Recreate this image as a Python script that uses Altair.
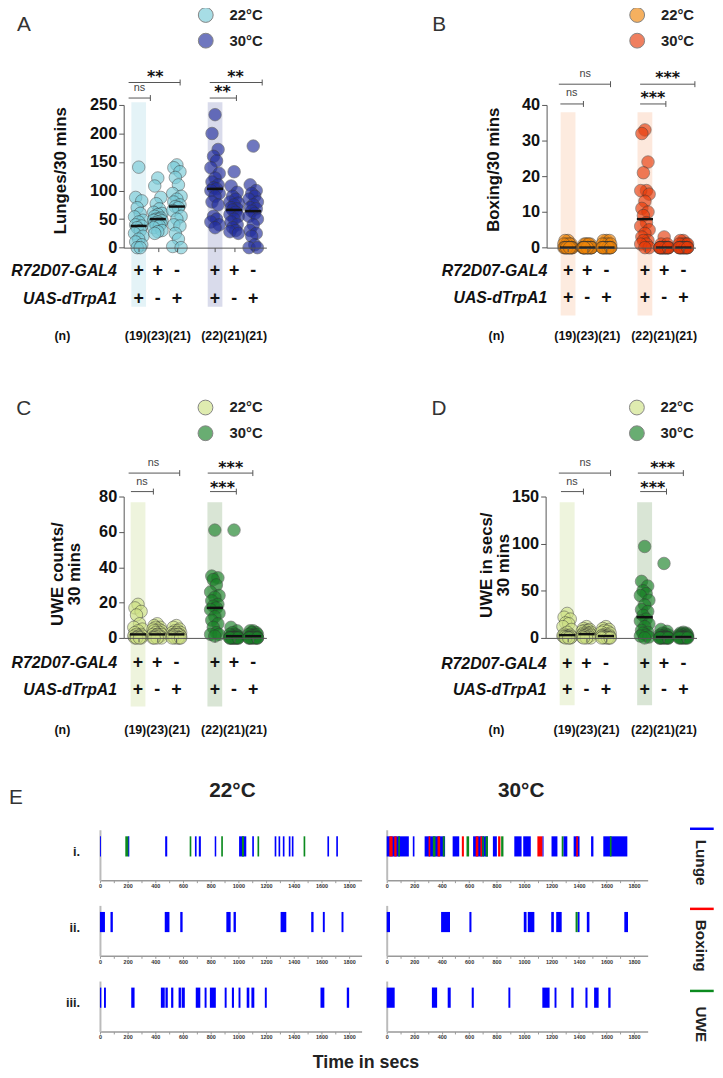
import altair as alt
import pandas as pd

W, H = 715, 1070
OX, OY = 8, 8
FONT = "Liberation Sans"
STAR_FONT = "DejaVu Sans"


def px(x):
    return round(x - OX, 2)


def py(y):
    return round(y - OY, 2)


# ---------------- categories ----------------
col_pos = [1, 2, 3, 5, 6, 7]
col_temp = ["22°C", "22°C", "22°C", "30°C", "30°C", "30°C"]
temps = ["22°C", "30°C"]
gal4_signs = ["+", "+", "-", "+", "+", "-"]
uas_signs = ["+", "-", "+", "+", "-", "+"]
n_flies = [19, 23, 21, 22, 21, 21]

# ---------------- panel A: lunges ----------------
lunges = [
    [141, 88, 82, 70, 60, 54, 48, 45, 40, 38, 35, 30, 25, 20, 15, 10, 5, 0, 0],
    [122, 108, 88, 77, 68, 62, 60, 58, 55, 52, 50, 50, 48, 47, 45, 43, 42, 40, 38, 35, 30, 28, 25],
    [145, 140, 133, 123, 110, 95, 90, 85, 80, 75, 72, 70, 65, 55, 50, 40, 38, 25, 15, 2, 0],
    [233, 200, 172, 160, 152, 140, 130, 122, 115, 110, 105, 103, 100, 95, 90, 80, 75, 55, 50, 45, 40, 35],
    [133, 108, 97, 90, 85, 80, 78, 75, 70, 68, 66, 62, 58, 55, 50, 45, 40, 35, 30, 28, 25],
    [178, 110, 100, 95, 90, 85, 80, 75, 70, 68, 64, 60, 55, 50, 40, 30, 25, 20, 5, 0, 0],
]
lunges_median = [38, 50, 72, 103, 66, 64]

# ---------------- panel B: boxing ----------------
boxing = [
    [2, 2, 1, 1, 1, 1, 0, 0, 0, 0, 0, 0, 0, 0, 0, 0, 0, 0, 0],
    [1, 1, 1, 1, 1, 0, 0, 0, 0, 0, 0, 0, 0, 0, 0, 0, 0, 0, 0, 0, 0, 0, 0],
    [2, 2, 2, 1, 1, 1, 1, 0, 0, 0, 0, 0, 0, 0, 0, 0, 0, 0, 0, 0, 0],
    [33, 32, 24, 21, 16, 16, 15, 13, 11, 10, 9, 7, 6, 5, 4, 3, 2, 2, 1, 1, 0, 0],
    [3, 1, 1, 0, 0, 0, 0, 0, 0, 0, 0, 0, 0, 0, 0, 0, 0, 0, 0, 0, 0],
    [2, 2, 1, 1, 1, 1, 1, 0, 0, 0, 0, 0, 0, 0, 0, 0, 0, 0, 0, 0, 0],
]
boxing_median = [0, 0, 0, 8, 0, 0]

# ---------------- panel C: UWE counts ----------------
uwe_counts = [
    [19, 17, 15, 13, 8, 6, 5, 4, 3, 2, 2, 1, 1, 1, 1, 0, 0, 0, 0],
    [8, 7, 6, 6, 5, 5, 4, 4, 4, 3, 3, 2, 2, 2, 2, 1, 1, 1, 1, 0, 0, 0, 0],
    [7, 6, 5, 4, 4, 3, 3, 3, 2, 2, 2, 2, 1, 1, 1, 1, 0, 0, 0, 0, 0],
    [61, 35, 34, 33, 30, 26, 24, 23, 21, 19, 18, 17, 16, 14, 12, 10, 8, 6, 3, 2, 2, 1],
    [61, 6, 4, 3, 2, 2, 1, 1, 1, 1, 0, 0, 0, 0, 0, 0, 0, 0, 0, 0, 0],
    [4, 4, 3, 3, 2, 2, 2, 1, 1, 1, 1, 1, 0, 0, 0, 0, 0, 0, 0, 0, 0],
]
uwe_counts_median = [2, 2, 2, 17, 1, 1]

# ---------------- panel D: UWE seconds ----------------
uwe_secs = [
    [26, 22, 20, 16, 15, 12, 9, 6, 4, 3, 2, 2, 2, 1, 1, 1, 0, 0, 0],
    [12, 10, 9, 8, 8, 7, 6, 6, 5, 5, 4, 4, 3, 3, 3, 2, 2, 2, 1, 1, 0, 0, 0],
    [12, 10, 9, 8, 7, 6, 5, 4, 3, 3, 2, 2, 2, 1, 1, 1, 0, 0, 0, 0, 0],
    [97, 60, 55, 50, 47, 45, 40, 35, 30, 28, 24, 20, 18, 15, 12, 8, 6, 5, 3, 2, 1, 0],
    [79, 9, 7, 5, 4, 3, 3, 2, 2, 1, 1, 1, 0, 0, 0, 0, 0, 0, 0, 0, 0],
    [6, 5, 5, 4, 4, 3, 3, 2, 2, 2, 1, 1, 1, 1, 0, 0, 0, 0, 0, 0, 0],
]
uwe_secs_median = [3, 4, 2, 22, 1, 1]

# ---------------- panel E: ethograms (start, end in secs) ----------------
behaviours = ["Lunge", "Boxing", "UWE"]
lunge_i_22 = [(0, 7), (203, 212), (471, 486), (686, 698), (714, 729), (829, 840), (1005, 1057),
              (1100, 1112), (1262, 1274), (1290, 1302), (1321, 1333), (1364, 1376), (1386, 1398),
              (1643, 1655), (1707, 1719)]
boxing_i_22 = []
uwe_i_22 = [(183, 205), (648, 660), (876, 888), (1026, 1040), (1138, 1150), (1471, 1483)]

lunge_i_30 = [(0, 161), (190, 202), (276, 425), (480, 528), (629, 737), (773, 802), (929, 982),
              (994, 1049), (1133, 1142), (1200, 1243), (1286, 1315), (1361, 1404), (1488, 1505),
              (1577, 1752)]
boxing_i_30 = [(19, 43), (55, 72), (305, 317), (370, 389), (547, 562), (648, 667), (682, 694),
               (811, 828), (1097, 1133), (1380, 1392)]
uwe_i_30 = [(84, 96), (336, 355), (408, 422), (581, 600), (696, 708), (720, 737), (833, 850),
            (1274, 1286), (1625, 1637)]

lunge_ii_22 = [(0, 36), (76, 93), (468, 502), (580, 597), (913, 944), (965, 982), (1305, 1346),
               (1526, 1543), (1610, 1624), (1745, 1759)]
boxing_ii_22 = []
uwe_ii_22 = []

lunge_ii_30 = [(0, 24), (396, 461), (602, 617), (998, 1018), (1027, 1075), (1198, 1217),
               (1234, 1274), (1390, 1404), (1457, 1476), (1730, 1757)]
boxing_ii_30 = []
uwe_ii_30 = [(1375, 1390)]

lunge_iii_22 = [(0, 10), (29, 43), (226, 250), (440, 468), (473, 490), (514, 530), (568, 585),
                (590, 613), (692, 725), (756, 770), (794, 837), (901, 915), (953, 968), (1001, 1015),
                (1060, 1079), (1094, 1115), (1191, 1205), (1593, 1621), (1783, 1800)]
boxing_iii_22 = []
uwe_iii_22 = []

lunge_iii_30 = [(0, 58), (329, 367), (444, 466), (619, 634), (886, 900), (1133, 1186), (1222, 1236),
                (1344, 1361), (1447, 1462), (1510, 1543), (1613, 1630)]
boxing_iii_30 = []
uwe_iii_30 = []

# ---------------- layout of the four scatter panels ----------------
PANELS = [
    dict(letter="A", values=lunges, medians=lunges_median, ymax=250, yticks=[0, 50, 100, 150, 200, 250],
         ytitle="Lunges/30 mins", ax=125, right=269.3, c1=140.2, c7=256, y0=244.3, ytop=100,
         title_x=61, title_y=166, colors=["#79cbd8", "#232f9e"],
         band_colors=["#e4f3f7", "#d9dbeb"], band_y=(97.3, 304), letter_xy=(24, 25),
         legend_x=208, legend_top=1, label_x=232, lab_right=118, row_y=(267.7, 296), n_y=334, n_x=63,
         brackets=[(0.47, 1.61, 93.0), (0.47, 3.17, 77.3), (4.72, 6.12, 93.0), (4.72, 7.47, 77.3)],
         sig=[("ns", 1.04, 82.5), ("**", 1.87, 67.5), ("**", 5.39, 83), ("**", 6.07, 68)]),
    dict(letter="B", values=boxing, medians=boxing_median, ymax=40, yticks=[0, 10, 20, 30, 40],
         ytitle="Boxing/30 mins", ax=552.7, right=703.3, c1=574.4, c7=691, y0=244.3, ytop=100,
         title_x=499, title_y=165, colors=["#f0860a", "#e83c0a"],
         band_colors=["#fdebdf", "#fde8dc"], band_y=(107.3, 313), letter_xy=(444, 25),
         legend_x=644.3, legend_top=1, label_x=668.3, lab_right=553.3, row_y=(267.7, 295), n_y=334, n_x=502,
         brackets=[(0.60, 1.80, 99.0), (0.52, 3.21, 79.0), (4.75, 6.09, 99.0), (4.75, 7.60, 79.0)],
         sig=[("ns", 1.19, 88), ("ns", 1.89, 68.3), ("***", 5.41, 89), ("***", 6.18, 69.3)]),
    dict(letter="C", values=uwe_counts, medians=uwe_counts_median, ymax=80, yticks=[0, 20, 40, 60, 80],
         ytitle=["UWE counts/", "30 mins"], ax=125, right=269.3, c1=139.5, c7=256, y0=639, ytop=496,
         title_x=58, title_y=574, colors=["#cfe286", "#1a8228"],
         band_colors=["#eef4dd", "#d9e5d5"], band_y=(501.7, 708.3), letter_xy=(24, 414),
         legend_x=207.7, legend_top=398, label_x=232, lab_right=118.3, row_y=(664.3, 691.7), n_y=732, n_x=63,
         brackets=[(0.63, 1.80, 491.0), (0.51, 3.17, 472.3), (4.75, 6.12, 491.0), (4.63, 6.98, 472.3)],
         sig=[("ns", 1.20, 481), ("ns", 1.80, 462.3), ("***", 5.40, 483.3), ("***", 5.83, 463.3)]),
    dict(letter="D", values=uwe_secs, medians=uwe_secs_median, ymax=150, yticks=[0, 50, 100, 150],
         ytitle=["UWE in secs/", "30 mins"], ax=551.7, right=704.3, c1=573.5, c7=691, y0=639, ytop=496,
         title_x=492, title_y=565, colors=["#cfe286", "#1a8228"],
         band_colors=["#eef4dd", "#d9e5d5"], band_y=(501.7, 707), letter_xy=(444, 414),
         legend_x=644, legend_top=398, label_x=668, lab_right=552.7, row_y=(665, 692), n_y=731.7, n_x=502,
         brackets=[(0.68, 1.84, 491.0), (0.57, 3.24, 472.3), (4.77, 6.13, 491.0), (4.65, 7.0, 472.3)],
         sig=[("ns", 1.25, 481), ("ns", 1.93, 462.3), ("***", 5.42, 483), ("***", 5.93, 463)]),
]

DOT_OPACITY = 0.65


def label(text, x, y, size, weight="normal", color="#222", align="center", baseline="middle",
          angle=0, font=FONT, style="normal"):
    df = pd.DataFrame({"t": [text]})
    return alt.Chart(df).mark_text(
        align=align, baseline=baseline, fontSize=size, fontWeight=weight, font=font,
        color=color, angle=angle, fontStyle=style
    ).encode(text="t:N", x=alt.value(px(x)), y=alt.value(py(y)))


def panel_layers(P):
    unit = (P["c7"] - P["c1"]) / 6.0
    d0 = 1 - (P["c1"] - P["ax"]) / unit
    d1 = 7 + (P["right"] - P["c7"]) / unit
    xsc = alt.Scale(domain=[d0, d1], range=[px(P["ax"]), px(P["right"])], nice=False, zero=False)
    ysc = alt.Scale(domain=[0, P["ymax"]], range=[py(P["y0"]), py(P["ytop"])], nice=False, zero=False)
    per_px = P["ymax"] / (P["y0"] - P["ytop"])

    def yv(ypix):
        return round((P["y0"] - ypix) * per_px, 4)

    out = []
    # highlight bands behind the experimental genotype
    hw = 0.385
    bands = pd.DataFrame({"col": [col_pos[0], col_pos[3]], "fill": P["band_colors"]})
    out.append(
        alt.Chart(bands).transform_calculate(
            b0=f"datum.col - {hw}", b1=f"datum.col + {hw}",
            t0=str(yv(P["band_y"][0])), t1=str(yv(P["band_y"][1])),
        ).mark_rect().encode(
            x=alt.X("b0:Q", scale=xsc, axis=None), x2="b1:Q",
            y=alt.Y("t0:Q", scale=ysc, axis=None), y2="t1:Q",
            color=alt.Color("fill:N", scale=None),
        )
    )
    # dots
    rows = []
    for c, t, vals in zip(col_pos, col_temp, P["values"]):
        for v in vals:
            rows.append({"col": c, "temp": t, "v": v})
    dots = pd.DataFrame(rows)
    xaxis = alt.Axis(orient="bottom", offset=py(P["y0"]) - H, values=col_pos, labels=False,
                     tickSize=4, tickColor="#555", domainColor="#555", domainWidth=1,
                     title=None, grid=False, zindex=1)
    yaxis = alt.Axis(orient="left", offset=-px(P["ax"]), values=P["yticks"], tickSize=5,
                     tickColor="#555", domainColor="#555", labelFont=FONT, labelFontSize=16.5,
                     labelFontWeight="bold", labelColor="#111", labelPadding=2, labelOverlap=False,
                     grid=False, title=P["ytitle"], titleFont=FONT, titleFontSize=17,
                     titleFontWeight="bold", titleColor="#111", titleAngle=270, titleAlign="center",
                     titleBaseline="middle", titleX=P["title_x"] - P["ax"], titleY=py(P["title_y"]),
                     titleLineHeight=17)
    lx = P["legend_x"]
    legend = alt.Legend(orient="none", legendX=px(lx - 8), legendY=py(P["legend_top"]), title=None,
                        symbolType="circle", symbolSize=225, symbolStrokeColor="#444",
                        symbolStrokeWidth=1, symbolOpacity=DOT_OPACITY, labelFont=FONT,
                        labelFontSize=15, labelFontWeight="bold", labelColor="#222",
                        labelOffset=P["label_x"] - lx - 8, rowPadding=6, padding=0)
    jitter = "[0, -0.16, 0.16, -0.08, 0.08, -0.22, 0.22][(datum.rk - 1) % 7]"
    out.append(
        alt.Chart(dots).transform_window(
            rk="row_number()", groupby=["col"], sort=[alt.SortField("v", order="descending")]
        ).transform_calculate(xj="datum.col + " + jitter).mark_point(
            filled=True, shape="circle", size=160, opacity=DOT_OPACITY, stroke="#333", strokeWidth=0.7
        ).encode(
            x=alt.X("xj:Q", scale=xsc, axis=xaxis),
            y=alt.Y("v:Q", scale=ysc, axis=yaxis),
            color=alt.Color("temp:N", scale=alt.Scale(domain=temps, range=P["colors"]), legend=legend),
        )
    )
    # medians
    med = pd.DataFrame({"col": col_pos, "m": P["medians"]})
    out.append(
        alt.Chart(med).transform_calculate(m0="datum.col - 0.42", m1="datum.col + 0.42")
        .mark_rule(color="#111", strokeWidth=2.5).encode(
            x=alt.X("m0:Q", scale=xsc, axis=None), x2="m1:Q",
            y=alt.Y("m:Q", scale=ysc, axis=None))
    )
    # significance brackets
    br = pd.DataFrame({"b0": [b[0] for b in P["brackets"]], "b1": [b[1] for b in P["brackets"]],
                       "yb": [yv(b[2]) for b in P["brackets"]]})
    dd = round(3 * per_px, 4)
    out.append(
        alt.Chart(br).mark_rule(color="#555", strokeWidth=1).encode(
            x=alt.X("b0:Q", scale=xsc, axis=None), x2="b1:Q",
            y=alt.Y("yb:Q", scale=ysc, axis=None))
    )
    out.append(
        alt.Chart(br).transform_calculate(ya=f"datum.yb - {dd}", yc=f"datum.yb + {dd}")
        .mark_rule(color="#555", strokeWidth=1).encode(
            x=alt.X("b1:Q", scale=xsc, axis=None),
            y=alt.Y("ya:Q", scale=ysc, axis=None), y2="yc:Q")
    )
    ns = [s for s in P["sig"] if s[0] == "ns"]
    st = [s for s in P["sig"] if s[0] != "ns"]
    if ns:
        out.append(
            alt.Chart(pd.DataFrame({"t": [s[0] for s in ns], "x": [s[1] for s in ns],
                                    "y": [yv(s[2]) for s in ns]}))
            .mark_text(font=FONT, fontSize=11, color="#444", baseline="middle").encode(
                text="t:N", x=alt.X("x:Q", scale=xsc, axis=None), y=alt.Y("y:Q", scale=ysc, axis=None))
        )
    if st:
        out.append(
            alt.Chart(pd.DataFrame({"t": [s[0] for s in st], "x": [s[1] for s in st],
                                    "y": [yv(s[2] + 9) for s in st]}))
            .mark_text(font=STAR_FONT, fontSize=16, fontWeight="bold", color="#111",
                       baseline="alphabetic").encode(
                text="t:N", x=alt.X("x:Q", scale=xsc, axis=None), y=alt.Y("y:Q", scale=ysc, axis=None))
        )
    # genotype signs
    g = pd.DataFrame({"col": col_pos + col_pos, "s": gal4_signs + uas_signs,
                      "yy": [yv(P["row_y"][0])] * 6 + [yv(P["row_y"][1])] * 6})
    out.append(
        alt.Chart(g).mark_text(font=FONT, fontSize=18, fontWeight="bold", color="#111",
                               baseline="middle").encode(
            text="s:N", x=alt.X("col:Q", scale=xsc, axis=None), y=alt.Y("yy:Q", scale=ysc, axis=None))
    )
    rl = pd.DataFrame({"t": ["R72D07-GAL4", "UAS-dTrpA1"], "yy": [yv(r) for r in P["row_y"]]})
    out.append(
        alt.Chart(rl).mark_text(align="right", baseline="middle", font=FONT, fontSize=16,
                                fontWeight="bold", fontStyle="italic", color="#111").encode(
            text="t:N", x=alt.value(px(P["lab_right"])), y=alt.Y("yy:Q", scale=ysc, axis=None))
    )
    # sample sizes
    nt = pd.DataFrame({"col": [2, 6],
                       "t": ["".join(f"({n})" for n in n_flies[:3]), "".join(f"({n})" for n in n_flies[3:])],
                       "yy": [yv(P["n_y"])] * 2})
    out.append(
        alt.Chart(nt).mark_text(font=FONT, fontSize=12.5, fontWeight="bold", color="#111",
                                baseline="middle").encode(
            text="t:N", x=alt.X("col:Q", scale=xsc, axis=None), y=alt.Y("yy:Q", scale=ysc, axis=None))
    )
    out.append(label("(n)", P["n_x"], P["n_y"], 12.5, weight="bold", color="#111"))
    out.append(label(P["letter"], P["letter_xy"][0], P["letter_xy"][1], 21, color="#333",
                     baseline="alphabetic"))
    return out


E_ROWS = [("i.", 833.0, 884.0), ("ii.", 909.5, 960.5), ("iii.", 986.0, 1037.0)]
E_SCALES = {"22°C": (1890, 101.0, 365.6), "30°C": (1900, 391.0, 654.9)}
E_EVENTS = {
    ("i.", "22°C"): (lunge_i_22, boxing_i_22, uwe_i_22),
    ("i.", "30°C"): (lunge_i_30, boxing_i_30, uwe_i_30),
    ("ii.", "22°C"): (lunge_ii_22, boxing_ii_22, uwe_ii_22),
    ("ii.", "30°C"): (lunge_ii_30, boxing_ii_30, uwe_ii_30),
    ("iii.", "22°C"): (lunge_iii_22, boxing_iii_22, uwe_iii_22),
    ("iii.", "30°C"): (lunge_iii_30, boxing_iii_30, uwe_iii_30),
}
BEH_COLORS = ["#0000ff", "#ff0000", "#0b8a1e"]


def raster_layers():
    out = []
    for row, top, axis_y in E_ROWS:
        for temp in temps:
            dmax, x0, x1 = E_SCALES[temp]
            recs = []
            for beh, evs in zip(behaviours, E_EVENTS[(row, temp)]):
                for s, e in evs:
                    recs.append({"beh": beh, "s": s, "e": e})
            df = pd.DataFrame(recs)
            xsc = alt.Scale(domain=[0, dmax], range=[px(x0), px(x1)], nice=False, zero=False)
            ysc = alt.Scale(domain=[0, 1], range=[py(axis_y), py(top)], nice=False, zero=False)
            xaxis = alt.Axis(orient="bottom", offset=py(axis_y) - H, values=list(range(0, 1801, 100)),
                             labelExpr="datum.value % 200 === 0 ? datum.label : ''", format="d",
                             labelFont=FONT, labelFontSize=5.5, labelFontWeight="bold",
                             labelColor="#333", labelPadding=1, tickSize=2.5, tickColor="#999",
                             domainColor="#999", domainWidth=1.6, labelFlush=False,
                             labelOverlap=False, title=None, grid=False)
            yaxis = alt.Axis(orient="left", offset=-px(x0), domain=True, ticks=False, labels=False,
                             domainColor="#bbb", domainWidth=2, grid=False, title=None)
            out.append(
                alt.Chart(df).transform_calculate(lo="0.47", hi="0.87").mark_rect().encode(
                    x=alt.X("s:Q", scale=xsc, axis=xaxis), x2="e:Q",
                    y=alt.Y("lo:Q", scale=ysc, axis=yaxis), y2="hi:Q",
                    color=alt.Color("beh:N", scale=alt.Scale(domain=behaviours, range=BEH_COLORS),
                                    legend=None),
                )
            )
        out.append(label(row, 81, (top + axis_y) / 2 - 3, 13, weight="bold", color="#222", align="right"))
    out.append(label("E", 16, 807, 21, color="#333", baseline="alphabetic"))
    out.append(label("22°C", 235, 794, 21, weight="bold", color="#222"))
    out.append(label("30°C", 527, 794, 21, weight="bold", color="#222"))
    out.append(label("Time in secs", 370, 1069, 18, weight="bold", color="#222"))
    # behaviour key on the right
    for beh, col, yl, yt in zip(behaviours, BEH_COLORS, [832, 913, 996], [843, 924, 1011.7]):
        out.append(
            alt.Chart(pd.DataFrame({"b": [beh]})).mark_rule(color=col, strokeWidth=2.5).encode(
                x=alt.value(px(697.7)), x2=alt.value(px(721.7)), y=alt.value(py(yl)))
        )
        out.append(label(beh, 708.3, yt, 15.5, weight="bold", color="#222", align="left", angle=90))
    return out


layers = []
for P in PANELS:
    layers += panel_layers(P)
layers += raster_layers()

chart = (
    alt.layer(*layers)
    .resolve_scale(x="independent", y="independent", color="independent")
    .resolve_axis(x="independent", y="independent")
    .resolve_legend(color="independent")
    .properties(width=W, height=H, autosize=alt.AutoSizeParams(type="none"), padding=0)
    .configure_view(stroke=None)
)

chart.save("out.html", embed_options={"renderer": "svg", "actions": False})
